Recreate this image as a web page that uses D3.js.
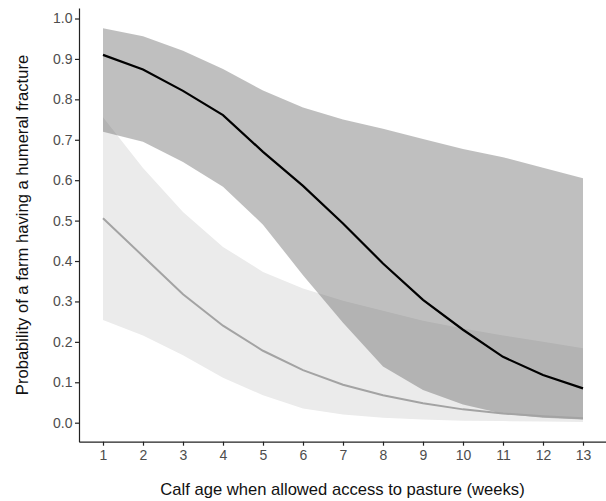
<!DOCTYPE html>
<html>
<head>
<meta charset="utf-8">
<script src="https://cdn.jsdelivr.net/npm/d3@7"></script>
<style>
  body { margin: 0; background: #fff; }
  svg { display: block; font-family: "Liberation Sans", Arial, sans-serif; }
  .axis path, .axis line { stroke: #222; }
  .axis text { fill: #4d4d4d; font-size: 14px; }
</style>
</head>
<body>
<div id="chart"></div>
<script>
// calf age in weeks
const weeks = [1, 2, 3, 4, 5, 6, 7, 8, 9, 10, 11, 12, 13];

// black line + dark ribbon
const darkMean  = [0.910, 0.874, 0.821, 0.761, 0.670, 0.586, 0.493, 0.394, 0.304, 0.230, 0.163, 0.118, 0.085];
const darkUpper = [0.976, 0.956, 0.920, 0.875, 0.822, 0.780, 0.750, 0.727, 0.702, 0.677, 0.657, 0.631, 0.605];
const darkLower = [0.720, 0.695, 0.645, 0.584, 0.490, 0.365, 0.247, 0.139, 0.081, 0.045, 0.022, 0.012, 0.008];

// grey line + light ribbon
const lightMean  = [0.506, 0.412, 0.318, 0.240, 0.178, 0.130, 0.094, 0.068, 0.048, 0.033, 0.023, 0.016, 0.011];
const lightUpper = [0.756, 0.630, 0.521, 0.435, 0.373, 0.332, 0.302, 0.277, 0.252, 0.233, 0.216, 0.200, 0.184];
const lightLower = [0.254, 0.216, 0.167, 0.111, 0.068, 0.035, 0.020, 0.012, 0.008, 0.005, 0.004, 0.003, 0.002];

const yTicks = [0, 0.1, 0.2, 0.3, 0.4, 0.5, 0.6, 0.7, 0.8, 0.9, 1.0];

const width = 606, height = 501;

const svg = d3.select("#chart").append("svg")
    .attr("width", width)
    .attr("height", height);

const x = d3.scaleLinear().domain([0.4, 13.6]).range([79, 607]);
const y = d3.scaleLinear().domain([-0.047, 1.026]).range([441.7, 8]);

// build rows for each series
const rows = (mean, lo, hi) => weeks.map((w, i) => ({ w: w, m: mean[i], lo: lo[i], hi: hi[i] }));
const light = rows(lightMean, lightLower, lightUpper);
const dark = rows(darkMean, darkLower, darkUpper);

const band = d3.area()
    .x(d => x(d.w))
    .y0(d => y(d.lo))
    .y1(d => y(d.hi));

const line = d3.line()
    .x(d => x(d.w))
    .y(d => y(d.m));

// ribbons first, light under dark
svg.append("path")
    .datum(light)
    .attr("d", band)
    .attr("fill", "#ebebeb");

svg.append("path")
    .datum(dark)
    .attr("d", band)
    .attr("fill", "rgb(95,95,95)")
    .attr("fill-opacity", 0.4);

svg.append("path")
    .datum(light)
    .attr("d", line)
    .attr("fill", "none")
    .attr("stroke", "#a3a3a3")
    .attr("stroke-width", 2);

svg.append("path")
    .datum(dark)
    .attr("d", line)
    .attr("fill", "none")
    .attr("stroke", "#000")
    .attr("stroke-width", 2.2);

// axes
svg.append("g")
    .attr("class", "axis")
    .attr("transform", "translate(0,441.7)")
    .call(d3.axisBottom(x).tickValues(weeks).tickSize(4).tickSizeOuter(0).tickPadding(4))
    .call(g => g.selectAll("path, line").attr("stroke-width", 1.2));

svg.append("g")
    .attr("class", "axis")
    .attr("transform", "translate(79,0)")
    .call(d3.axisLeft(y).tickValues(yTicks).tickFormat(d3.format(".1f")).tickSize(4).tickSizeOuter(0).tickPadding(2.5))
    .call(g => g.selectAll("path, line").attr("stroke-width", 1.2));

// axis titles
svg.append("text")
    .attr("x", 342.5)
    .attr("y", 495)
    .attr("text-anchor", "middle")
    .attr("font-size", 16.6)
    .attr("fill", "#111")
    .text("Calf age when allowed access to pasture (weeks)");

svg.append("text")
    .attr("transform", "translate(28,225) rotate(-90)")
    .attr("text-anchor", "middle")
    .attr("font-size", 16.6)
    .attr("fill", "#111")
    .text("Probability of a farm having a humeral fracture");
</script>
</body>
</html>
